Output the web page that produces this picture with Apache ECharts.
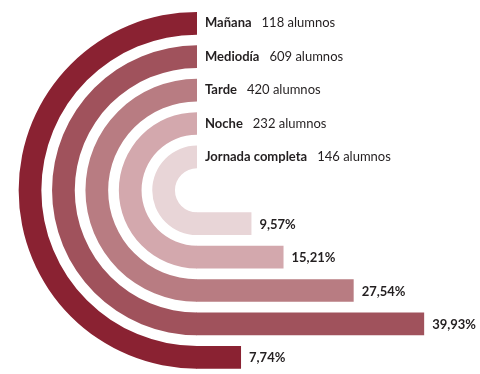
<!DOCTYPE html>
<html>
<head>
<meta charset="utf-8">
<script src="https://cdn.jsdelivr.net/npm/echarts@6/dist/echarts.min.js"></script>
<style>
  html, body { margin: 0; padding: 0; background: #fff; }
  #chart { width: 480px; height: 374px; }
</style>
</head>
<body>
<div id="chart"></div>
<script>
// Turnos, from the innermost ring to the outermost one
const turnos = ['Jornada completa', 'Noche', 'Tarde', 'Mediodía', 'Mañana'];
const alumnos = [146, 232, 420, 609, 118];
const porcentajes = [9.57, 15.21, 27.54, 39.93, 7.74];
const etiquetasPct = ['9,57%', '15,21%', '27,54%', '39,93%', '7,74%'];
const colores = ['#e8d5d7', '#d3a8ad', '#b87c82', '#a0525c', '#8a2232'];

const chart = echarts.init(document.getElementById('chart'));

function renderItem(params, api) {
  const i = params.dataIndex;
  const value = api.value(0);
  const end = api.coord([value, i]);
  const origin = api.coord([0, i]);
  const band = Math.abs(api.size([0, 1])[1]);
  const thick = band * 0.68;
  // The rings share a centre one band above the innermost bar
  const cx = origin[0];
  const cy = origin[1] - (i + 1) * band;
  const R = origin[1] - cy;
  const color = colores[i];
  return {
    type: 'group',
    children: [
      {
        type: 'sector',
        shape: {
          cx: cx, cy: cy,
          r0: R - thick / 2, r: R + thick / 2,
          startAngle: Math.PI / 2, endAngle: Math.PI * 3 / 2,
          clockwise: true
        },
        style: { fill: color }
      },
      {
        type: 'rect',
        shape: { x: cx - 0.5, y: origin[1] - thick / 2, width: end[0] - cx + 0.5, height: thick },
        style: { fill: color }
      },
      {
        type: 'text',
        x: end[0] + 8,
        y: origin[1] + 1,
        style: {
          text: etiquetasPct[i],
          fill: '#231f20',
          font: 'bold 13px Lato',
          verticalAlign: 'middle',
          align: 'left'
        }
      },
      {
        type: 'text',
        x: cx + 8,
        y: cy - R,
        style: {
          text: '{n|' + turnos[i] + '}{c|' + alumnos[i] + ' alumnos}',
          verticalAlign: 'middle',
          align: 'left',
          rich: {
            n: { font: 'bold 13px Lato', fill: '#231f20' },
            c: { font: '13px Lato', fill: '#231f20', padding: [0, 0, 0, 10] }
          }
        }
      }
    ]
  };
}

chart.setOption({
  animation: false,
  grid: { left: 197, right: 27, top: 207, bottom: -5.5 },
  xAxis: { type: 'value', min: 0, max: 45, show: false },
  yAxis: { type: 'category', data: turnos, inverse: true, show: false },
  series: [{
    type: 'custom',
    renderItem: renderItem,
    data: porcentajes.map((p, i) => [p, i]),
    encode: { x: 0, y: 1 },
    clip: false
  }]
});
</script>
</body>
</html>
